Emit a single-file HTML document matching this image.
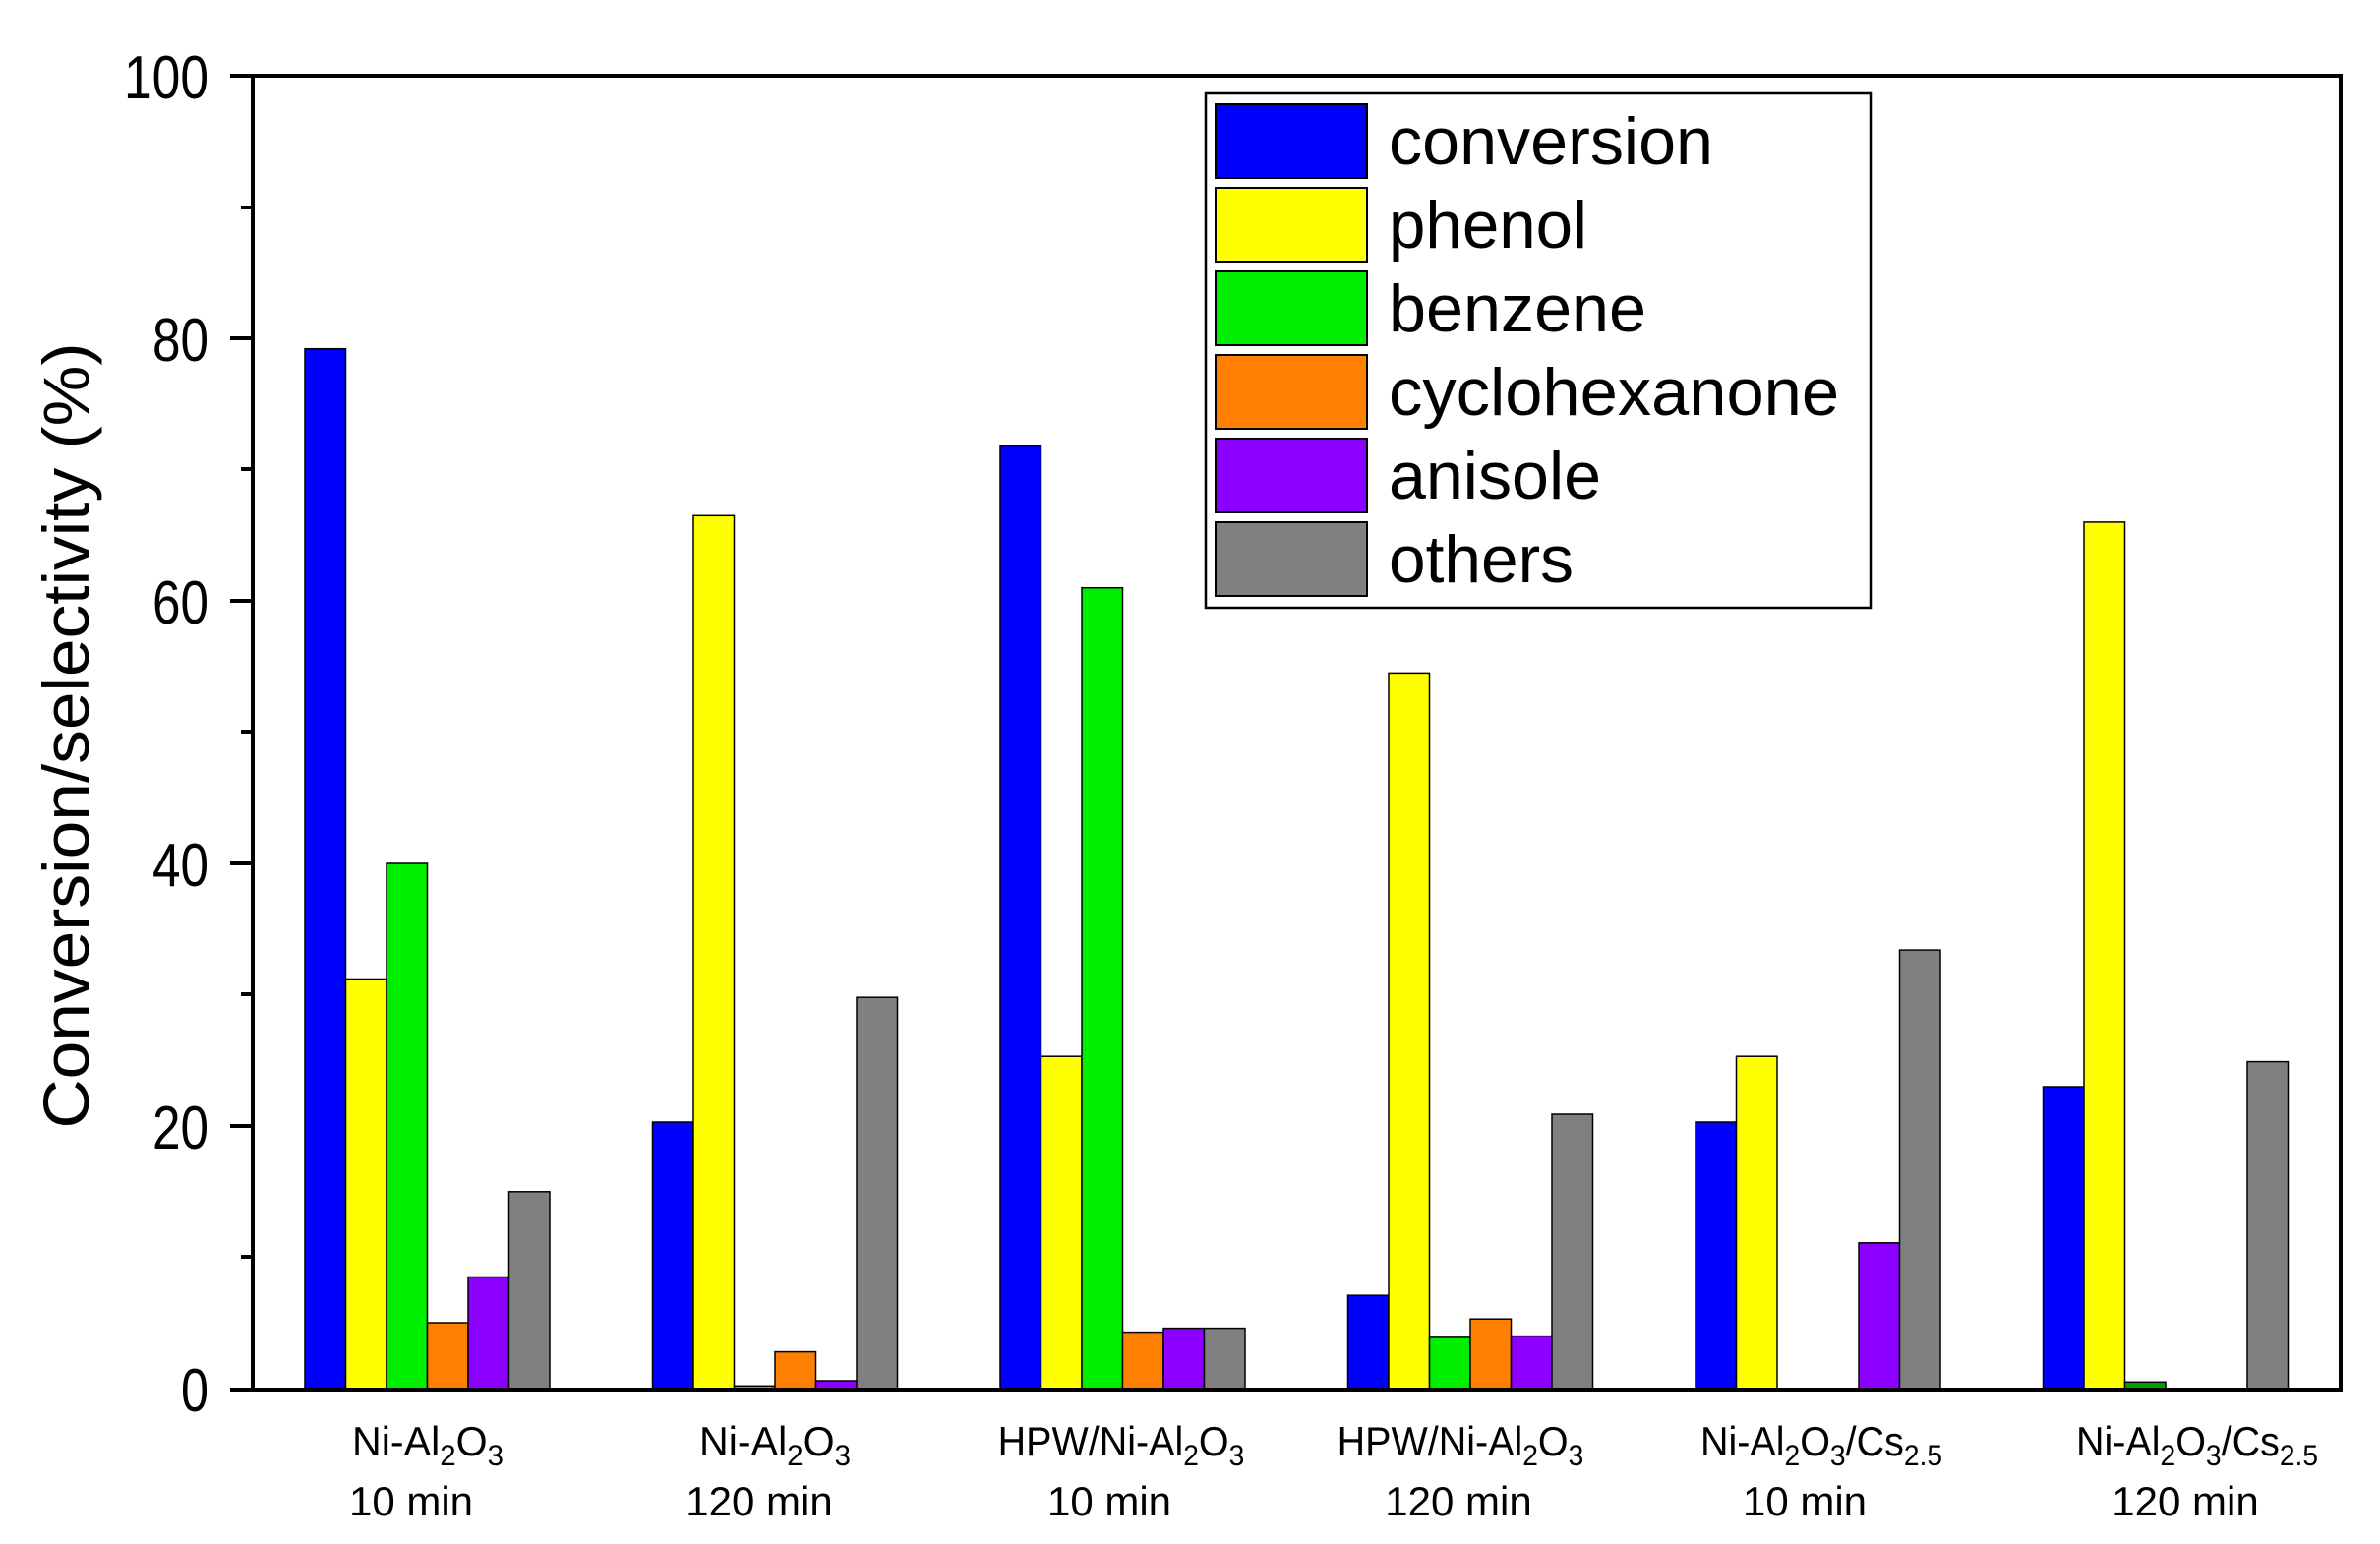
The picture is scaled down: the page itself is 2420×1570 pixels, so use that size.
<!DOCTYPE html>
<html><head><meta charset="utf-8"><style>
html,body{margin:0;padding:0;background:#fff}
svg{display:block}
text{font-family:"Liberation Sans",Arial,sans-serif;fill:#000}
</style></head><body>
<svg width="2420" height="1570" viewBox="0 0 2420 1570" xmlns="http://www.w3.org/2000/svg">
<rect width="2420" height="1570" fill="#fff"/>
<g stroke="#000" stroke-width="1.5">
<rect x="310" y="354.7" width="41.5" height="1057.3" fill="#0000ff"/>
<rect x="351.5" y="995.5" width="41.5" height="416.5" fill="#ffff00"/>
<rect x="393" y="878" width="41.5" height="534" fill="#00ee00"/>
<rect x="434.5" y="1345" width="41.5" height="67" fill="#ff8000"/>
<rect x="476" y="1298.5" width="41.5" height="113.5" fill="#8b00ff"/>
<rect x="517.5" y="1211.8" width="41.5" height="200.2" fill="#808080"/>
<rect x="663.5" y="1141" width="41.5" height="271" fill="#0000ff"/>
<rect x="705" y="524.3" width="41.5" height="887.7" fill="#ffff00"/>
<rect x="746.5" y="1409.3" width="41.5" height="2.7" fill="#00ee00"/>
<rect x="788" y="1374.6" width="41.5" height="37.4" fill="#ff8000"/>
<rect x="829.5" y="1404" width="41.5" height="8" fill="#8b00ff"/>
<rect x="871" y="1014.2" width="41.5" height="397.8" fill="#808080"/>
<rect x="1017" y="453.5" width="41.5" height="958.5" fill="#0000ff"/>
<rect x="1058.5" y="1074.2" width="41.5" height="337.8" fill="#ffff00"/>
<rect x="1100" y="597.7" width="41.5" height="814.3" fill="#00ee00"/>
<rect x="1141.5" y="1354.6" width="41.5" height="57.4" fill="#ff8000"/>
<rect x="1183" y="1350.6" width="41.5" height="61.4" fill="#8b00ff"/>
<rect x="1224.5" y="1350.6" width="41.5" height="61.4" fill="#808080"/>
<rect x="1370.5" y="1317.2" width="41.5" height="94.8" fill="#0000ff"/>
<rect x="1412" y="684.4" width="41.5" height="727.6" fill="#ffff00"/>
<rect x="1453.5" y="1359.9" width="41.5" height="52.1" fill="#00ee00"/>
<rect x="1495" y="1341.2" width="41.5" height="70.8" fill="#ff8000"/>
<rect x="1536.5" y="1358.6" width="41.5" height="53.4" fill="#8b00ff"/>
<rect x="1578" y="1133" width="41.5" height="279" fill="#808080"/>
<rect x="1724" y="1141" width="41.5" height="271" fill="#0000ff"/>
<rect x="1765.5" y="1074.2" width="41.5" height="337.8" fill="#ffff00"/>
<rect x="1890" y="1263.8" width="41.5" height="148.2" fill="#8b00ff"/>
<rect x="1931.5" y="966.1" width="41.5" height="445.9" fill="#808080"/>
<rect x="2077.5" y="1105" width="41.5" height="307" fill="#0000ff"/>
<rect x="2119" y="530.9" width="41.5" height="881.1" fill="#ffff00"/>
<rect x="2160.5" y="1405.3" width="41.5" height="6.7" fill="#00a000"/>
<rect x="2285" y="1079.6" width="41.5" height="332.4" fill="#808080"/>
</g>
<g stroke="#000" stroke-width="4" fill="none">
<line x1="257" y1="77" x2="257" y2="1414"/>
<line x1="2380" y1="77" x2="2380" y2="1414"/>
<line x1="234" y1="77" x2="2382" y2="77"/>
<line x1="234" y1="1413" x2="2382" y2="1413"/>
<line x1="234" y1="1145" x2="257" y2="1145"/>
<line x1="234" y1="878" x2="257" y2="878"/>
<line x1="234" y1="611" x2="257" y2="611"/>
<line x1="234" y1="344" x2="257" y2="344"/>
<line x1="245" y1="1278" x2="257" y2="1278"/>
<line x1="245" y1="1011" x2="257" y2="1011"/>
<line x1="245" y1="744" x2="257" y2="744"/>
<line x1="245" y1="477" x2="257" y2="477"/>
<line x1="245" y1="211" x2="257" y2="211"/>
</g>
<g font-size="62" text-anchor="end">
<text x="212" y="1435" textLength="28" lengthAdjust="spacingAndGlyphs">0</text>
<text x="212" y="1168" textLength="57" lengthAdjust="spacingAndGlyphs">20</text>
<text x="212" y="901" textLength="57" lengthAdjust="spacingAndGlyphs">40</text>
<text x="212" y="634" textLength="57" lengthAdjust="spacingAndGlyphs">60</text>
<text x="212" y="367" textLength="57" lengthAdjust="spacingAndGlyphs">80</text>
<text x="212" y="100" textLength="86" lengthAdjust="spacingAndGlyphs">100</text>
</g>
<text transform="translate(90,748) rotate(-90)" font-size="66" text-anchor="middle" textLength="799" lengthAdjust="spacingAndGlyphs">Conversion/selectivity (%)</text>
<g font-size="42" text-anchor="middle">
<g transform="translate(435,0) scale(0.98,1)"><text x="0" y="1480">Ni-Al<tspan font-size="30" dy="10">2</tspan><tspan dy="-10">O</tspan><tspan font-size="30" dy="10">3</tspan></text></g>
<text x="418" y="1541">10 min</text>
<g transform="translate(788,0) scale(0.98,1)"><text x="0" y="1480">Ni-Al<tspan font-size="30" dy="10">2</tspan><tspan dy="-10">O</tspan><tspan font-size="30" dy="10">3</tspan></text></g>
<text x="772" y="1541">120 min</text>
<g transform="translate(1140,0) scale(0.94,1)"><text x="0" y="1480">HPW/Ni-Al<tspan font-size="30" dy="10">2</tspan><tspan dy="-10">O</tspan><tspan font-size="30" dy="10">3</tspan></text></g>
<text x="1128" y="1541">10 min</text>
<g transform="translate(1485,0) scale(0.94,1)"><text x="0" y="1480">HPW/Ni-Al<tspan font-size="30" dy="10">2</tspan><tspan dy="-10">O</tspan><tspan font-size="30" dy="10">3</tspan></text></g>
<text x="1483" y="1541">120 min</text>
<g transform="translate(1852,0) scale(0.94,1)"><text x="0" y="1480">Ni-Al<tspan font-size="30" dy="10">2</tspan><tspan dy="-10">O</tspan><tspan font-size="30" dy="10">3</tspan><tspan dy="-10">/Cs</tspan><tspan font-size="30" dy="10">2.5</tspan></text></g>
<text x="1835" y="1541">10 min</text>
<g transform="translate(2234,0) scale(0.94,1)"><text x="0" y="1480">Ni-Al<tspan font-size="30" dy="10">2</tspan><tspan dy="-10">O</tspan><tspan font-size="30" dy="10">3</tspan><tspan dy="-10">/Cs</tspan><tspan font-size="30" dy="10">2.5</tspan></text></g>
<text x="2222" y="1541">120 min</text>
</g>
<rect x="1226" y="95" width="676" height="523" fill="#fff" stroke="#000" stroke-width="2.5"/>
<g stroke="#000" stroke-width="2">
<rect x="1236" y="106" width="154" height="75" fill="#0000ff"/>
<rect x="1236" y="191" width="154" height="75" fill="#ffff00"/>
<rect x="1236" y="276" width="154" height="75" fill="#00ee00"/>
<rect x="1236" y="361" width="154" height="75" fill="#ff8000"/>
<rect x="1236" y="446" width="154" height="75" fill="#8b00ff"/>
<rect x="1236" y="531" width="154" height="75" fill="#808080"/>
</g>
<g font-size="68">
<text x="1412" y="167" textLength="330" lengthAdjust="spacingAndGlyphs">conversion</text>
<text x="1412" y="252" textLength="202" lengthAdjust="spacingAndGlyphs">phenol</text>
<text x="1412" y="337" textLength="262" lengthAdjust="spacingAndGlyphs">benzene</text>
<text x="1412" y="422" textLength="458" lengthAdjust="spacingAndGlyphs">cyclohexanone</text>
<text x="1412" y="507" textLength="216" lengthAdjust="spacingAndGlyphs">anisole</text>
<text x="1412" y="592" textLength="188" lengthAdjust="spacingAndGlyphs">others</text>
</g>
</svg>
</body></html>
